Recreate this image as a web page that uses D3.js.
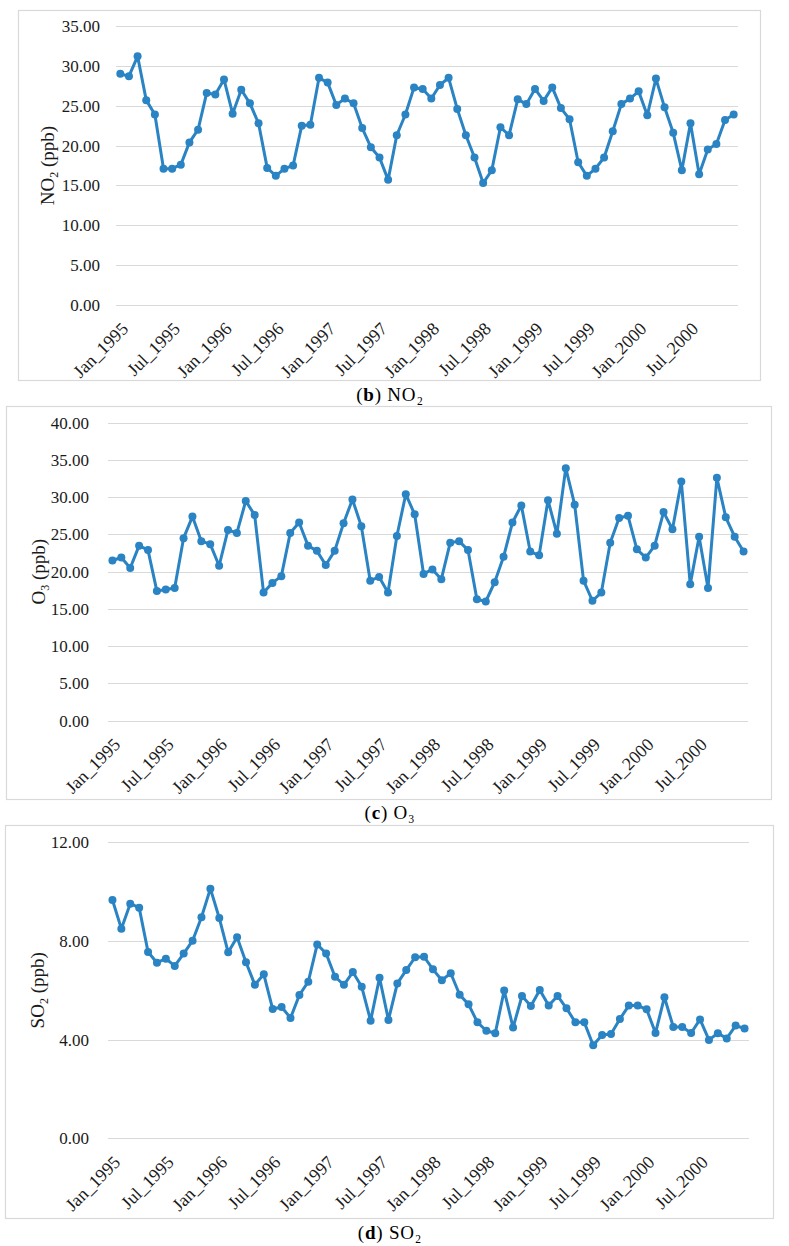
<!DOCTYPE html>
<html><head><meta charset="utf-8">
<script src="https://cdn.jsdelivr.net/npm/d3@7"></script>
<style>
body{margin:0;background:#fff;}
svg{display:block;font-family:"Liberation Serif","Times New Roman",serif;}
svg text{font-family:"Liberation Serif","Times New Roman",serif;}
</style></head>
<body>
<svg id="chart" width="789" height="1246"></svg>
<script>
const monthNames = ["Jan","Feb","Mar","Apr","May","Jun","Jul","Aug","Sep","Oct","Nov","Dec"];
const years = [1995,1996,1997,1998,1999,2000];
const categories = [];
years.forEach(y => monthNames.forEach(m => categories.push(m + "_" + y)));
const tickLabels = ["Jan_1995","Jul_1995","Jan_1996","Jul_1996","Jan_1997","Jul_1997","Jan_1998","Jul_1998","Jan_1999","Jul_1999","Jan_2000","Jul_2000"];

const no2Values = [29.0,28.7,31.2,25.7,23.9,17.1,17.1,17.6,20.4,22.0,26.6,26.4,
  28.3,24.0,27.0,25.3,22.8,17.2,16.2,17.1,17.5,22.5,22.6,28.5,
  27.9,25.1,25.9,25.3,22.2,19.8,18.5,15.7,21.3,23.9,27.3,27.1,
  25.9,27.6,28.5,24.6,21.3,18.5,15.3,16.9,22.3,21.3,25.8,25.2,
  27.1,25.6,27.3,24.7,23.3,17.9,16.2,17.1,18.5,21.8,25.2,25.9,
  26.8,23.8,28.4,24.8,21.6,16.9,22.8,16.4,19.5,20.2,23.2,23.9];
const o3Values = [21.5,21.9,20.5,23.5,22.9,17.4,17.6,17.8,24.5,27.4,24.1,23.7,
  20.8,25.6,25.2,29.5,27.6,17.2,18.5,19.4,25.2,26.6,23.5,22.8,
  20.9,22.8,26.5,29.7,26.1,18.8,19.3,17.2,24.8,30.4,27.7,19.7,
  20.3,19.0,23.9,24.1,22.9,16.3,16.0,18.6,22.0,26.6,28.9,22.7,
  22.2,29.6,25.1,33.9,29.0,18.8,16.1,17.2,23.9,27.2,27.5,23.0,
  21.9,23.5,28.0,25.7,32.1,18.3,24.7,17.8,32.6,27.3,24.7,22.7];
const so2Values = [9.66,8.50,9.51,9.35,7.55,7.12,7.28,6.99,7.49,8.01,8.96,10.12,
  8.93,7.54,8.15,7.14,6.22,6.65,5.24,5.32,4.88,5.81,6.35,7.86,
  7.49,6.55,6.22,6.74,6.14,4.77,6.51,4.80,6.28,6.82,7.34,7.36,
  6.85,6.41,6.69,5.82,5.43,4.70,4.36,4.26,5.99,4.49,5.77,5.36,
  6.01,5.38,5.77,5.27,4.70,4.70,3.77,4.19,4.23,4.84,5.38,5.38,
  5.23,4.27,5.72,4.51,4.51,4.27,4.82,3.99,4.26,4.05,4.57,4.45];

const no2Ticks = [0,5,10,15,20,25,30,35];
const o3Ticks = [0,5,10,15,20,25,30,35,40];
const so2Ticks = [0,4,8,12];

const svg = d3.select("#chart");
const lineColor = "#2a83c3";
const gridColor = "#d9d9d9";
const FONT = '"Liberation Serif","Times New Roman",serif';

const panels = [
  {values:no2Values, ticks:no2Ticks, max:35, gas:"NO", sub:"2", letter:"b", capSub:"NO\u2082",
   frame:[18,10,760,380], plot:{l:116,r:738,t:26,b:305}, titleX:54, pad:16, capY:401},
  {values:o3Values, ticks:o3Ticks, max:40, gas:"O", sub:"3", letter:"c", capSub:"O\u2083",
   frame:[6,406,771,799], plot:{l:108,r:748,t:422.7,b:720.7}, titleX:45, pad:19, capY:819},
  {values:so2Values, ticks:so2Ticks, max:12, gas:"SO", sub:"2", letter:"d", capSub:"SO\u2082",
   frame:[5,825,773,1218], plot:{l:108,r:749,t:842.3,b:1138.3}, titleX:44, pad:19, capY:1239}
];

panels.forEach(p => {
  const g = svg.append("g");
  const [fx0, fy0, fx1, fy1] = p.frame;
  g.append("rect").attr("x", fx0 + 0.5).attr("y", fy0 + 0.5)
    .attr("width", fx1 - fx0).attr("height", fy1 - fy0)
    .attr("fill", "#fff").attr("stroke", gridColor).attr("stroke-width", 1.2);

  const x = d3.scaleBand().domain(categories).range([p.plot.l, p.plot.r]);
  const y = d3.scaleLinear().domain([0, p.max]).range([p.plot.b, p.plot.t]);
  const cx = c => x(c) + x.bandwidth() / 2;

  g.append("g").selectAll("line").data(p.ticks).join("line")
    .attr("x1", p.plot.l).attr("x2", p.plot.r)
    .attr("y1", d => Math.round(y(d)) + 0.5).attr("y2", d => Math.round(y(d)) + 0.5)
    .attr("stroke", gridColor).attr("stroke-width", 1.2);

  const yAxis = d3.axisLeft(y).tickValues(p.ticks).tickFormat(d3.format(".2f")).tickSize(0).tickPadding(p.pad);
  const ya = g.append("g").attr("transform", `translate(${p.plot.l},0)`).call(yAxis)
    .attr("font-family", FONT).attr("font-size", 17);
  ya.select(".domain").remove();
  ya.selectAll("text").attr("fill", "#1a1a1a");

  const xAxis = d3.axisBottom(x).tickValues(tickLabels).tickSize(0).tickPadding(0);
  const xa = g.append("g").attr("transform", `translate(0,${p.plot.b})`).call(xAxis)
    .attr("font-family", FONT).attr("font-size", 18);
  xa.select(".domain").remove();
  xa.selectAll("text")
    .attr("fill", "#1a1a1a")
    .attr("text-anchor", "end").attr("dy", null).attr("y", 0)
    .attr("transform", "translate(9,25) rotate(-45)");

  const mid = (p.plot.t + p.plot.b) / 2;
  const t = g.append("text").attr("transform", `translate(${p.titleX},${mid}) rotate(-90)`)
    .attr("text-anchor", "middle").attr("font-size", 19).attr("fill", "#1a1a1a");
  t.append("tspan").text(p.gas);
  t.append("tspan").attr("font-size", 12).attr("dy", 4).text(p.sub);
  t.append("tspan").attr("dy", -4).text(" (ppb)");

  const pts = categories.map((c, i) => [cx(c), y(p.values[i])]);
  g.append("path").attr("d", d3.line()(pts)).attr("fill", "none")
    .attr("stroke", lineColor).attr("stroke-width", 3).attr("stroke-linejoin", "round");
  g.append("g").selectAll("circle").data(pts).join("circle")
    .attr("cx", d => d[0]).attr("cy", d => d[1]).attr("r", 4).attr("fill", lineColor);

  const cap = svg.append("text").attr("x", 390).attr("y", p.capY).attr("text-anchor", "middle")
    .attr("font-size", 19).attr("letter-spacing", 0.8).attr("fill", "#000");
  cap.append("tspan").text("(");
  cap.append("tspan").attr("font-weight", "bold").text(p.letter);
  cap.append("tspan").text(") " + p.capSub);
});
</script>
</body></html>
